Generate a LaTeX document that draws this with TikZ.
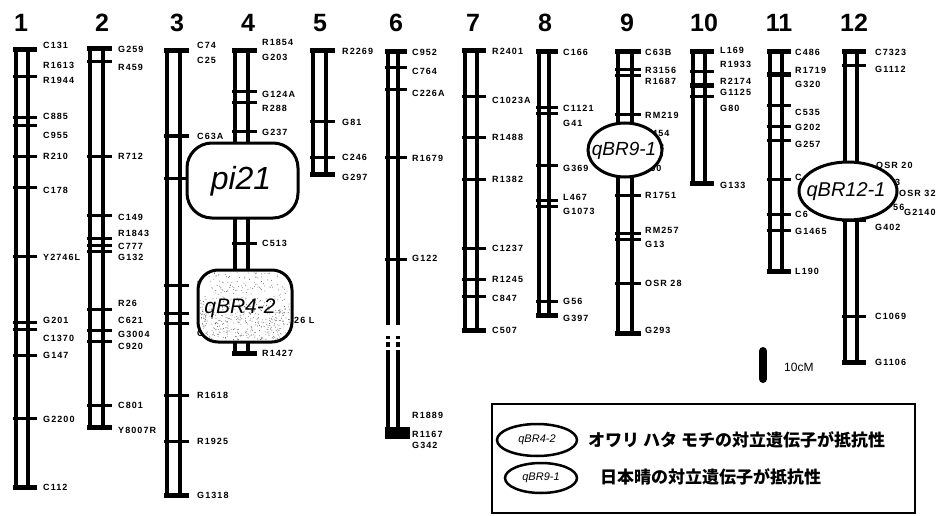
\documentclass[tikz,border=0pt]{standalone}
\usepackage{fontspec}
\setmainfont{Liberation Sans}
\newfontfamily\mkfont[LetterSpace=12]{Liberation Sans}
\newfontfamily\jpfont{Noto Sans CJK JP}
\usetikzlibrary{shapes.geometric}
\tikzset{
  chr/.style={line width=3.4pt},
  tick/.style={line width=3pt},
  endbar/.style={line width=5pt},
  mk/.style={font=\mkfont\bfseries\fontsize{9}{9}\selectfont,anchor=west,inner sep=0pt},
  chrnum/.style={font=\bfseries\fontsize{25}{25}\selectfont,inner sep=0pt},
  qtl/.style={draw,line width=3pt,fill=white},
  qtltext/.style={font=\itshape\fontsize{#1}{#1}\selectfont,inner sep=0pt},
  legoval/.style={ellipse,draw,line width=2.5pt,inner sep=0pt,font=\itshape\fontsize{11}{11}\selectfont},
  jp/.style={font=\jpfont\bfseries\fontsize{17}{17}\selectfont,anchor=west,inner sep=0pt}
}
\newcommand{\chrom}[6]{%
  \draw[chr] (#3,#5) rectangle (#4,#6);
  \draw[endbar] ({#3-3},#5) -- ({#4+9},#5);
  \draw[endbar] ({#3-3},#6) -- ({#4+9},#6);
  \node[chrnum] (chr#1) at (#2,23) {#1};}
\newcommand{\mkticks}[3]{\foreach \y in {#3} \draw[tick] ({#1-3},\y) -- ({#2+9},\y);}
\newcommand{\mklabels}[3]{\foreach \y/\t [count=\i] in {#3} \node[mk] (m#1-\i) at (#2,\y) {\t};}
\begin{document}
\begin{tikzpicture}[x=1pt,y=-1pt]
\useasboundingbox (0,0) rectangle (939,516);

\chrom{1}{21}{16}{28}{50}{487}
\mkticks{16}{28}{77,118,126,156,187,256,322,329,355,418}
\mklabels{1}{43}{45/C131,65/R1613,80/R1944,116/C885,135/C955,156/R210,190/C178,257/Y2746L,320/G201,338/C1370,355/G147,419/G2200,487/C112}

\chrom{2}{102}{90}{103}{49}{427}
\mkticks{90}{103}{62,156,215,238,245,251,309,330,341,405}
\mklabels{2}{118}{49/G259,67/R459,156/R712,217/C149,233/R1843,246/C777,257/G132,303/R26,320/C621,334/G3004,346/C920,405/C801,430/Y8007R}

\chrom{3}{177}{167}{180}{51}{495}
\mkticks{167}{180}{136,178,285,313,323,395,441}
\mklabels{3}{197}{45/C74,60/C25,136/C63A,284/R,333/C,395/R1618,441/R1925,495/G1318}

\chrom{4}{248}{235}{248}{51}{353}
\mkticks{235}{248}{92,103,132,243}
\mklabels{4}{262}{42/R1854,57/G203,94/G124A,108/R288,132/G237,243/C513,353/R1427}
\node[mk] (m4-f1) at (294,320) {26 L};
\node[mk] (m4-f2) at (283,333) {7};

\chrom{5}{320}{313}{326}{51}{174}
\mkticks{313}{326}{122,157}
\mklabels{5}{342}{51/R2269,122/G81,157/C246,177/G297}

\draw[chr] (388,325) -- (388,52) -- (398,52) -- (398,325);
\draw[chr] (388,350) -- (388,433) (398,350) -- (398,433);
\foreach \x in {388,398} \draw[chr] (\x,336) -- (\x,339) (\x,342) -- (\x,347);
\draw[endbar] (385,52) -- (407,52);
\fill (385,427) rectangle (410,439);
\node[chrnum] (chr6) at (396,23) {6};
\mkticks{388}{398}{68,90,157,259}
\mklabels{6}{412}{52/C952,71/C764,93/C226A,158/R1679,258/G122,415/R1889,434/R1167,445/G342}

\chrom{7}{473}{465}{477}{51}{330}
\mkticks{465}{477}{97,137,179,248,279,296}
\mklabels{7}{492}{51/R2401,100/C1023A,137/R1488,179/R1382,248/C1237,279/R1245,298/C847,330/C507}

\chrom{8}{545}{539}{549}{52}{315}
\mkticks{539}{549}{108,114,165,200,206,301}
\mklabels{8}{563}{52/C166,108/C1121,123/G41,168/G369,197/L467,211/G1073,301/G56,318/G397}

\chrom{9}{627}{618}{632}{52}{333}
\mkticks{618}{632}{70,76,115,195,233,239,283}
\mklabels{9}{645}{52/C63B,70/R3156,81/R1687,115/RM219,195/R1751,230/RM257,244/G13,283/OSR 28,330/G293}
\node[mk] (m9-f1) at (646,133) {1454};
\node[mk] (m9-f2) at (659,147) {3};
\node[mk] (m9-f3) at (644,168) {760};

\chrom{10}{704}{693}{705}{52}{183}
\mkticks{693}{705}{72,97}
\draw[endbar,line width=5.5pt] (690,85.5) -- (714,85.5);
\mklabels{10}{720}{50/L169,64/R1933,81/R2174,92/G1125,108/G80,185/G133}

\chrom{11}{779}{770}{782}{52}{271}
\mkticks{770}{782}{106,127,140,179,214,230}
\draw[endbar] (767,75) -- (791,75);
\mklabels{11}{795}{52/C486,70/R1719,84/G320,112/C535,127/G202,144/G257,177/C,214/C6,231/G1465,271/L190}

\chrom{12}{854}{845}{857}{52}{362}
\mkticks{845}{857}{66,220,316}
\mklabels{12}{875}{52/C7323,69/G1112,227/G402,316/C1069,362/G1106}
\node[mk] (m12-f1) at (876,165) {OSR 20};
\node[mk] (m12-f2) at (895,182) {3};
\node[mk] (m12-f3) at (899,193) {OSR 32};
\node[mk] (m12-f4) at (893,207) {56};
\node[mk] (m12-f5) at (904,212) {G2140};

\node[qtl,rounded corners=25pt,minimum width=111pt,minimum height=75pt] (pi21box) at (242.5,180.5) {};
\node[qtltext=32] (pi21) at (241,181) {pi21};

\node[qtl,rounded corners=20pt,minimum width=94pt,minimum height=72pt] (qbr42box) at (245,306) {};
\pgfmathsetseed{11}
\begin{scope}
\clip[rounded corners=18pt] (200,272) rectangle (290,340);
\foreach \i in {1,...,300} \fill[black!65] ({200+90*rnd},{272+68*rnd}) circle (0.45pt);
\foreach \i in {1,...,250} \fill[black!65] ({200+90*rnd},{308+32*rnd}) circle (0.45pt);
\end{scope}
\node[qtltext=21] (qBR4-2) at (240,308) {qBR4-2};

\draw[qtl] (625,150) ellipse [x radius=37pt,y radius=27pt];
\node[qtltext=19] (qBR9-1) at (624,151) {qBR9-1};

\draw[qtl] (848,191) ellipse [x radius=49pt,y radius=29pt];
\node[qtltext=20] (qBR12-1) at (846,192) {qBR12-1};

\draw[line width=8pt,line cap=round] (763,351) -- (763,379);
\node[anchor=west,font=\fontsize{12}{12}\selectfont,inner sep=0pt] (scale) at (784,367) {10cM};

\draw[line width=2pt] (492,404) rectangle (915,513);
\node[legoval,minimum width=80pt,minimum height=32pt] (leg1) at (537,440) {qBR4-2};
\node[jp] (leg1txt) at (588,440) {オワリ\hspace{4pt}ハタ\hspace{4pt}モチの対立遺伝子が抵抗性};
\node[legoval,minimum width=72pt,minimum height=30pt] (leg2) at (541,478) {qBR9-1};
\node[jp] (leg2txt) at (600,477) {日本晴の対立遺伝子が抵抗性};
\end{tikzpicture}
\end{document}
